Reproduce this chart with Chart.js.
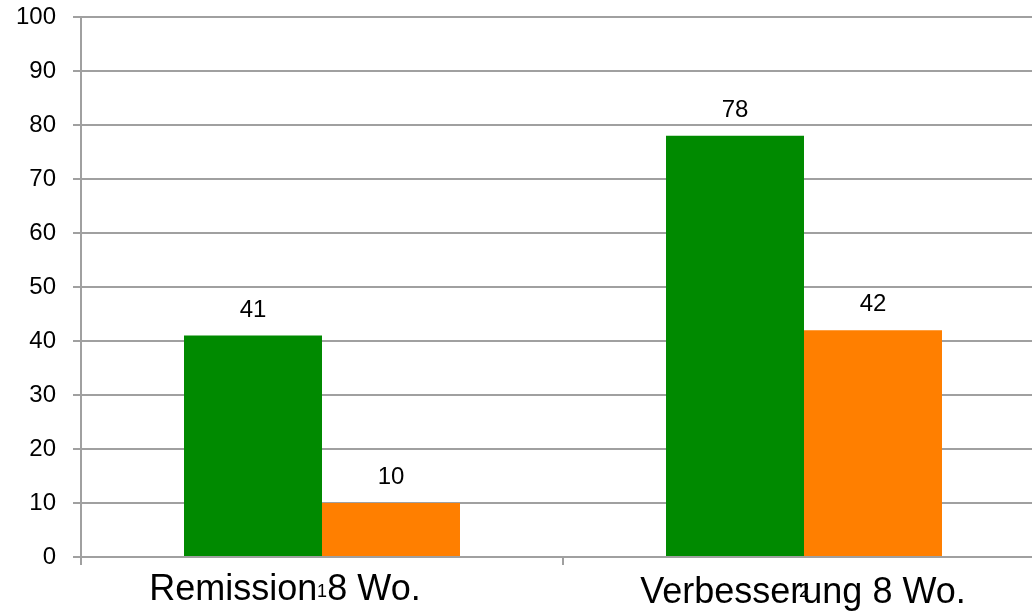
<!DOCTYPE html>
<html>
<head>
<meta charset="utf-8">
<script src="https://cdn.jsdelivr.net/npm/chart.js@4/dist/chart.umd.min.js"></script>
<style>
    html, body { margin: 0; padding: 0; background: #fff; overflow: hidden; }
    body { width: 1032px; height: 613px; }
</style>
</head>
<body>
<canvas id="chartWochen" width="1046" height="613"></canvas>
<script>
const categories = ["Remission 8 Wo.", "Verbesserung 8 Wo."];
const tickNumbers = ["1", "2"];
const gruen = [41, 78];
const orange = [10, 42];

const FONT = "'Liberation Sans', Arial, sans-serif";

// value labels above the bars
const valueLabels = {
    id: "valueLabels",
    afterDatasetsDraw(chart) {
        const ctx = chart.ctx;
        ctx.save();
        ctx.font = `24px ${FONT}`;
        ctx.fillStyle = "#000";
        ctx.textAlign = "center";
        ctx.textBaseline = "alphabetic";
        chart.data.datasets.forEach((ds, i) => {
            chart.getDatasetMeta(i).data.forEach((bar, j) => {
                ctx.fillText(String(ds.data[j]), bar.x, bar.y - 19);
            });
        });
        ctx.restore();
    },
};

// big category names, drawn over the small tick numbers
const categoryNames = {
    id: "categoryNames",
    afterDraw(chart, args, opts) {
        const ctx = chart.ctx;
        const x = chart.scales.x;
        ctx.save();
        ctx.font = `36px ${FONT}`;
        ctx.fillStyle = "#000";
        ctx.textAlign = "center";
        ctx.textBaseline = "alphabetic";
        categories.forEach((name, i) => {
            ctx.fillText(name, x.getPixelForValue(i) + opts.dx[i], opts.y[i]);
        });
        ctx.restore();
    },
};

new Chart(document.getElementById("chartWochen").getContext("2d"), {
    type: "bar",
    data: {
        labels: tickNumbers,
        datasets: [
            {
                label: "Gruppe A",
                data: gruen,
                backgroundColor: "#008A00",
                categoryPercentage: 0.5726,
                barPercentage: 1,
            },
            {
                label: "Gruppe B",
                data: orange,
                backgroundColor: "#FF7F00",
                categoryPercentage: 0.5726,
                barPercentage: 1,
            },
        ],
    },
    options: {
        responsive: false,
        animation: false,
        layout: { padding: { top: 17, right: 1, left: 0, bottom: 0 } },
        plugins: {
            legend: { display: false },
            tooltip: { enabled: false },
            categoryNames: { dx: [-37, -1], y: [600, 603] },
        },
        scales: {
            x: {
                grid: {
                    offset: true,
                    drawOnChartArea: false,
                    color: "#A0A0A0",
                    lineWidth: 2,
                    tickLength: 8,
                },
                border: { color: "#A0A0A0", width: 2 },
                ticks: {
                    color: "#000",
                    padding: 16,
                    font: { family: FONT, size: 18 },
                },
                afterFit: (scale) => {
                    scale.height = 56;
                    scale.paddingLeft = 0;
                    scale.paddingRight = 0;
                },
            },
            y: {
                min: 0,
                max: 100,
                ticks: {
                    stepSize: 10,
                    color: "#000",
                    padding: 17,
                    font: { family: FONT, size: 24 },
                },
                grid: { color: "#A0A0A0", lineWidth: 2, tickLength: 8 },
                border: { color: "#A0A0A0", width: 2 },
                afterFit: (scale) => {
                    scale.width = 81;
                    scale.paddingTop = 0;
                    scale.paddingBottom = 0;
                },
            },
        },
    },
    plugins: [valueLabels, categoryNames],
});
</script>
</body>
</html>
